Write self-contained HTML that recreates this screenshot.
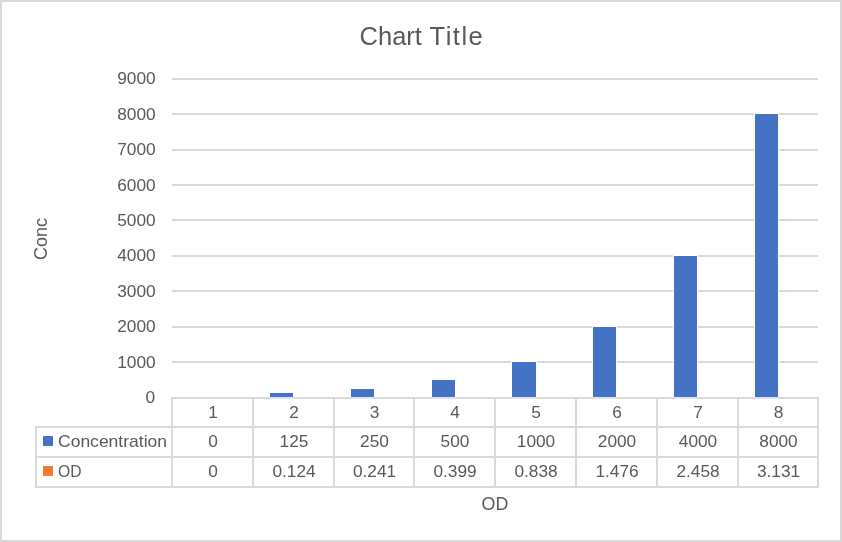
<!DOCTYPE html><html><head><meta charset="utf-8"><style>
html,body{margin:0;padding:0;}
body{width:842px;height:542px;position:relative;overflow:hidden;background:#fff;font-family:"Liberation Sans",sans-serif;color:#595959;}
.f{position:absolute;left:0;top:0;width:842px;height:542px;box-sizing:border-box;border:2px solid #d9d9d9;}
.h{position:absolute;height:2px;background:#d9d9d9;}
.v{position:absolute;width:2px;background:#d9d9d9;}
.t{position:absolute;white-space:nowrap;line-height:20px;height:20px;filter:grayscale(1);}
.b{position:absolute;background:#4472c4;}
</style></head><body><div class="f"></div>
<div class="t" style="left:359.60px;top:15.80px;font-size:25.5px;line-height:40px;height:40px;">Chart</div>
<div class="t" style="left:429.50px;top:15.80px;font-size:25.5px;line-height:40px;height:40px;letter-spacing:1.5px;">Title</div>
<div class="t" style="left:10.70px;top:228.70px;width:60px;text-align:center;font-size:18px;transform:rotate(-90deg);">Conc</div>
<div class="h" style="left:172px;width:646px;top:361px;"></div>
<div class="h" style="left:172px;width:646px;top:326px;"></div>
<div class="h" style="left:172px;width:646px;top:290px;"></div>
<div class="h" style="left:172px;width:646px;top:255px;"></div>
<div class="h" style="left:172px;width:646px;top:219px;"></div>
<div class="h" style="left:172px;width:646px;top:184px;"></div>
<div class="h" style="left:172px;width:646px;top:149px;"></div>
<div class="h" style="left:172px;width:646px;top:113px;"></div>
<div class="h" style="left:172px;width:646px;top:78px;"></div>
<div class="t" style="right:687.00px;top:387.20px;font-size:17.3px;text-align:right;">0</div>
<div class="t" style="right:686.30px;top:351.76px;font-size:17.3px;text-align:right;">1000</div>
<div class="t" style="right:686.30px;top:316.32px;font-size:17.3px;text-align:right;">2000</div>
<div class="t" style="right:686.30px;top:280.88px;font-size:17.3px;text-align:right;">3000</div>
<div class="t" style="right:686.30px;top:245.44px;font-size:17.3px;text-align:right;">4000</div>
<div class="t" style="right:686.30px;top:210.00px;font-size:17.3px;text-align:right;">5000</div>
<div class="t" style="right:686.30px;top:174.56px;font-size:17.3px;text-align:right;">6000</div>
<div class="t" style="right:686.30px;top:139.12px;font-size:17.3px;text-align:right;">7000</div>
<div class="t" style="right:686.30px;top:103.68px;font-size:17.3px;text-align:right;">8000</div>
<div class="t" style="right:686.30px;top:68.24px;font-size:17.3px;text-align:right;">9000</div>
<svg style="position:absolute;left:0;top:0" width="842" height="542"><path d="M172 398H818V487H36V427H172ZM172 427V487M36 457H818M172 427H818M253 398V487M334 398V487M414 398V487M495 398V487M576 398V487M657 398V487M738 398V487" fill="none" stroke="#d9d9d9" stroke-width="2" stroke-linejoin="round"/></svg>
<div style="position:absolute;background:#fff;left:269px;width:25px;top:392px;height:5px;"></div>
<div style="position:absolute;background:#dfe5f2;left:270px;width:23px;top:397px;height:2px;"></div>
<div class="b" style="left:270px;width:23px;top:393px;height:4px;"></div>
<div style="position:absolute;background:#fff;left:350px;width:25px;top:388px;height:9px;"></div>
<div style="position:absolute;background:#dfe5f2;left:351px;width:23px;top:397px;height:2px;"></div>
<div class="b" style="left:351px;width:23px;top:389px;height:8px;"></div>
<div style="position:absolute;background:#fff;left:431px;width:25px;top:379px;height:18px;"></div>
<div style="position:absolute;background:#dfe5f2;left:432px;width:23px;top:397px;height:2px;"></div>
<div class="b" style="left:432px;width:23px;top:380px;height:17px;"></div>
<div style="position:absolute;background:#fff;left:511px;width:26px;top:361px;height:36px;"></div>
<div style="position:absolute;background:#dfe5f2;left:512px;width:24px;top:397px;height:2px;"></div>
<div class="b" style="left:512px;width:24px;top:362px;height:35px;"></div>
<div style="position:absolute;background:#fff;left:592px;width:25px;top:326px;height:71px;"></div>
<div style="position:absolute;background:#dfe5f2;left:593px;width:23px;top:397px;height:2px;"></div>
<div class="b" style="left:593px;width:23px;top:327px;height:70px;"></div>
<div style="position:absolute;background:#fff;left:673px;width:25px;top:255px;height:142px;"></div>
<div style="position:absolute;background:#dfe5f2;left:674px;width:23px;top:397px;height:2px;"></div>
<div class="b" style="left:674px;width:23px;top:256px;height:141px;"></div>
<div style="position:absolute;background:#fff;left:754px;width:25px;top:113px;height:284px;"></div>
<div style="position:absolute;background:#dfe5f2;left:755px;width:23px;top:397px;height:2px;"></div>
<div class="b" style="left:755px;width:23px;top:114px;height:283px;"></div>
<div class="t" style="left:173.00px;width:80px;text-align:center;top:401.70px;font-size:17.3px;">1</div>
<div class="t" style="left:173.00px;width:80px;text-align:center;top:431.20px;font-size:17.3px;">0</div>
<div class="t" style="left:173.00px;width:80px;text-align:center;top:461.20px;font-size:17.3px;">0</div>
<div class="t" style="left:254.00px;width:80px;text-align:center;top:401.70px;font-size:17.3px;">2</div>
<div class="t" style="left:254.00px;width:80px;text-align:center;top:431.20px;font-size:17.3px;">125</div>
<div class="t" style="left:254.00px;width:80px;text-align:center;top:461.20px;font-size:17.3px;">0.124</div>
<div class="t" style="left:334.50px;width:80px;text-align:center;top:401.70px;font-size:17.3px;">3</div>
<div class="t" style="left:334.50px;width:80px;text-align:center;top:431.20px;font-size:17.3px;">250</div>
<div class="t" style="left:334.50px;width:80px;text-align:center;top:461.20px;font-size:17.3px;">0.241</div>
<div class="t" style="left:415.00px;width:80px;text-align:center;top:401.70px;font-size:17.3px;">4</div>
<div class="t" style="left:415.00px;width:80px;text-align:center;top:431.20px;font-size:17.3px;">500</div>
<div class="t" style="left:415.00px;width:80px;text-align:center;top:461.20px;font-size:17.3px;">0.399</div>
<div class="t" style="left:496.00px;width:80px;text-align:center;top:401.70px;font-size:17.3px;">5</div>
<div class="t" style="left:496.00px;width:80px;text-align:center;top:431.20px;font-size:17.3px;">1000</div>
<div class="t" style="left:496.00px;width:80px;text-align:center;top:461.20px;font-size:17.3px;">0.838</div>
<div class="t" style="left:577.00px;width:80px;text-align:center;top:401.70px;font-size:17.3px;">6</div>
<div class="t" style="left:577.00px;width:80px;text-align:center;top:431.20px;font-size:17.3px;">2000</div>
<div class="t" style="left:577.00px;width:80px;text-align:center;top:461.20px;font-size:17.3px;">1.476</div>
<div class="t" style="left:658.00px;width:80px;text-align:center;top:401.70px;font-size:17.3px;">7</div>
<div class="t" style="left:658.00px;width:80px;text-align:center;top:431.20px;font-size:17.3px;">4000</div>
<div class="t" style="left:658.00px;width:80px;text-align:center;top:461.20px;font-size:17.3px;">2.458</div>
<div class="t" style="left:738.50px;width:80px;text-align:center;top:401.70px;font-size:17.3px;">8</div>
<div class="t" style="left:738.50px;width:80px;text-align:center;top:431.20px;font-size:17.3px;">8000</div>
<div class="t" style="left:738.50px;width:80px;text-align:center;top:461.20px;font-size:17.3px;">3.131</div>
<div style="position:absolute;left:43px;top:436px;width:10px;height:10px;background:#4472c4;"></div>
<div style="position:absolute;left:43px;top:466px;width:10px;height:10px;background:#ed7d31;"></div>
<div class="t" style="left:57.7px;top:432.00px;font-size:17px;transform:scaleX(1.03);transform-origin:0 0;">Concentration</div>
<div class="t" style="left:58.3px;top:462.00px;font-size:17px;transform:scaleX(0.92);transform-origin:0 0;">OD</div>
<div class="t" style="left:444.50px;width:100px;text-align:center;top:493.50px;font-size:18.5px;transform:scaleX(0.965);">OD</div>
</body></html>
